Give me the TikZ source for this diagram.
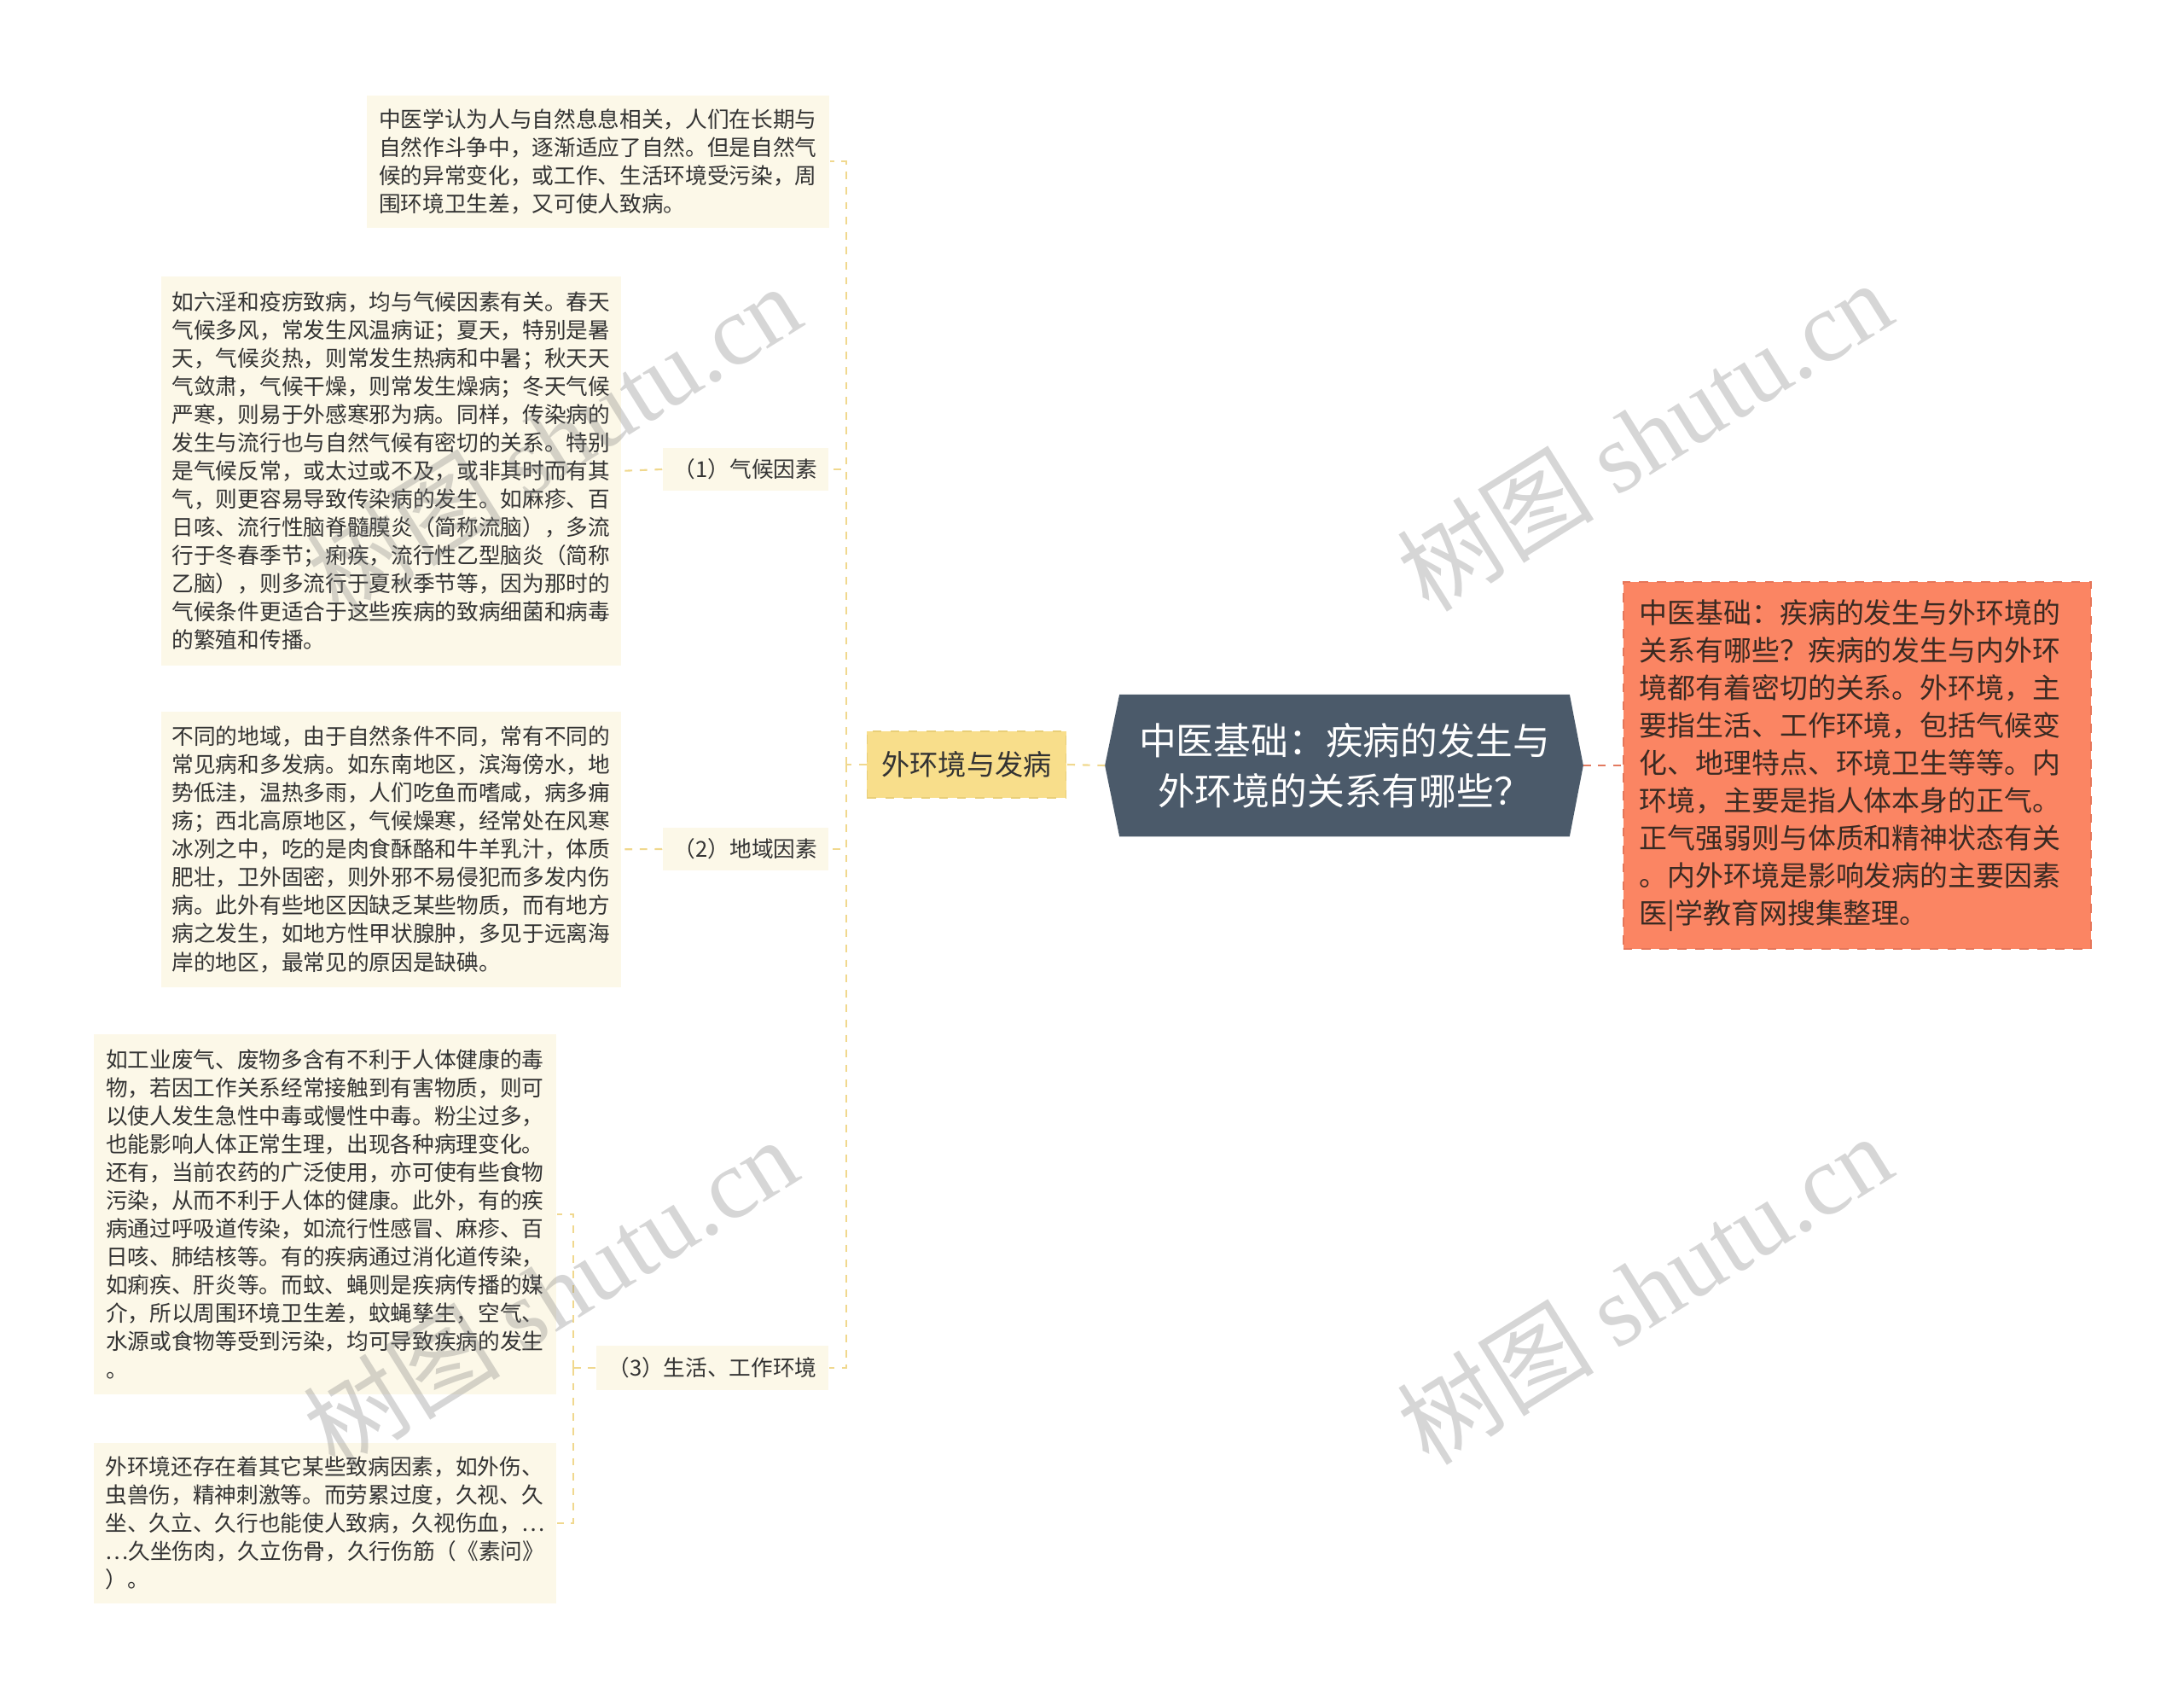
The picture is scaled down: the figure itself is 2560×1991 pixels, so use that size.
\documentclass[tikz,border=0pt]{standalone}
\usepackage{fontspec}
\setmainfont{Noto Sans CJK SC}
\newfontfamily\markfont{Liberation Serif}
\usetikzlibrary{calc,backgrounds}

\definecolor{notefill}{HTML}{FCF8E8}
\definecolor{notetext}{HTML}{333333}
\definecolor{topicfill}{HTML}{F8DE8B}
\definecolor{topicline}{HTML}{E9CF78}
\definecolor{rootfill}{HTML}{4B5A6A}
\definecolor{sidefill}{HTML}{FB8563}
\definecolor{sideline}{HTML}{E5765A}
\definecolor{sidetext}{HTML}{3A2A22}
\definecolor{linkyellow}{HTML}{F0D88E}
\definecolor{linkred}{HTML}{E27A60}

\newcommand\notefont{\fontsize{7.3pt}{9.4pt}\selectfont}

\begin{document}
\begin{tikzpicture}[x=0.01cm,y=-0.01cm,
    notebox/.style={fill=notefill,text=notetext,align=left,anchor=north west,inner sep=0pt,font=\notefont},
    tagbox/.style={fill=notefill,text=notetext,inner sep=0pt,font=\notefont},
    topicbox/.style={fill=topicfill,draw=topicline,dashed,inner sep=0pt,text=notetext,font=\fontsize{9.45pt}{12pt}\selectfont},
    rootbox/.style={inner sep=0pt,text=white,align=center,minimum width=5.26cm,minimum height=1.65cm,font=\fontsize{12.45pt}{16.7pt}\selectfont},
    sidebox/.style={fill=sidefill,draw=sideline,dashed,inner xsep=0.19cm,inner ysep=0pt,text width=5.1cm,align=left,text=sidetext,font=\fontsize{9.35pt}{12.5pt}\selectfont},
    link/.style={draw=linkyellow,line width=0.6pt,dash pattern=on 2.5pt off 2.5pt},
    watermark/.style={text=gray,opacity=0.32,rotate=32,font=\fontsize{33pt}{33pt}\selectfont}]

  \useasboundingbox (0,0) rectangle (2560,1991);

  %% Root and side note
  \node[rootbox] (root) at (1576,897) {中医基础：疾病的发生与\\外环境的关系有哪些？};
  \begin{scope}[on background layer]
    \fill[rootfill] (root.north west) -- (root.north east) -- ($(root.east)+(16,0)$)
      -- (root.south east) -- (root.south west) -- ($(root.west)+(-17,0)$) -- cycle;
  \end{scope}
  \coordinate (rootL) at ($(root.west)+(-17,0)$);
  \coordinate (rootR) at ($(root.east)+(16,0)$);

  \node[sidebox,minimum height=4.30cm] (side) at (2177,897) {%
    中医基础：疾病的发生与外环境的\\
    关系有哪些？疾病的发生与内外环\\
    境都有着密切的关系。外环境，主\\
    要指生活、工作环境，包括气候变\\
    化、地理特点、环境卫生等等。内\\
    环境，主要是指人体本身的正气。\\
    正气强弱则与体质和精神状态有关\\
    。内外环境是影响发病的主要因素\\
    医|学教育网搜集整理。};

  %% Main topic
  \node[topicbox,minimum width=2.33cm,minimum height=0.78cm] (topic) at (1133,896) {外环境与发病};

  %% Sub topics
  \node[tagbox,minimum width=1.94cm,minimum height=0.49cm] (climtag) at (874,550) {（1）气候因素};
  \node[tagbox,minimum width=1.94cm,minimum height=0.50cm] (regiontag) at (874,995) {（2）地域因素};
  \node[tagbox,minimum width=2.72cm,minimum height=0.52cm] (lifetag) at (835,1603) {（3）生活、工作环境};

  %% Notes
  \node[notebox,minimum width=5.42cm,minimum height=1.55cm] (intro) at (429,111) {%
    中医学认为人与自然息息相关，人们在长期与\\
    自然作斗争中，逐渐适应了自然。但是自然气\\
    候的异常变化，或工作、生活环境受污染，周\\
    围环境卫生差，又可使人致病。};
  \node[notebox,minimum width=5.39cm,minimum height=4.56cm] (climate) at (188,323) {%
    如六淫和疫疠致病，均与气候因素有关。春天\\
    气候多风，常发生风温病证；夏天，特别是暑\\
    天，气候炎热，则常发生热病和中暑；秋天天\\
    气敛肃，气候干燥，则常发生燥病；冬天气候\\
    严寒，则易于外感寒邪为病。同样，传染病的\\
    发生与流行也与自然气候有密切的关系。特别\\
    是气候反常，或太过或不及，或非其时而有其\\
    气，则更容易导致传染病的发生。如麻疹、百\\
    日咳、流行性脑脊髓膜炎（简称流脑），多流\\
    行于冬春季节；痢疾，流行性乙型脑炎（简称\\
    乙脑），则多流行于夏秋季节等，因为那时的\\
    气候条件更适合于这些疾病的致病细菌和病毒\\
    的繁殖和传播。};
  \node[notebox,minimum width=5.39cm,minimum height=3.23cm] (region) at (188,833) {%
    不同的地域，由于自然条件不同，常有不同的\\
    常见病和多发病。如东南地区，滨海傍水，地\\
    势低洼，温热多雨，人们吃鱼而嗜咸，病多痈\\
    疡；西北高原地区，气候燥寒，经常处在风寒\\
    冰冽之中，吃的是肉食酥酪和牛羊乳汁，体质\\
    肥壮，卫外固密，则外邪不易侵犯而多发内伤\\
    病。此外有些地区因缺乏某些物质，而有地方\\
    病之发生，如地方性甲状腺肿，多见于远离海\\
    岸的地区，最常见的原因是缺碘。};
  \node[notebox,minimum width=5.42cm,minimum height=4.22cm] (life) at (109,1211) {%
    如工业废气、废物多含有不利于人体健康的毒\\
    物，若因工作关系经常接触到有害物质，则可\\
    以使人发生急性中毒或慢性中毒。粉尘过多，\\
    也能影响人体正常生理，出现各种病理变化。\\
    还有，当前农药的广泛使用，亦可使有些食物\\
    污染，从而不利于人体的健康。此外，有的疾\\
    病通过呼吸道传染，如流行性感冒、麻疹、百\\
    日咳、肺结核等。有的疾病通过消化道传染，\\
    如痢疾、肝炎等。而蚊、蝇则是疾病传播的媒\\
    介，所以周围环境卫生差，蚊蝇孳生，空气、\\
    水源或食物等受到污染，均可导致疾病的发生\\
    。};
  \node[notebox,minimum width=5.42cm,minimum height=1.88cm] (other) at (109,1690) {%
    外环境还存在着其它某些致病因素，如外伤、\\
    虫兽伤，精神刺激等。而劳累过度，久视、久\\
    坐、久立、久行也能使人致病，久视伤血，…\\
    …久坐伤肉，久立伤骨，久行伤筋（《素问》\\
    ）。};

  %% Connectors
  \draw[link,draw=linkred] (rootR) -- (side.west);
  \draw[link] (rootL) -- (topic.east);
  \draw[link] (topic.west) -- ++(-24,0) coordinate (spine);
  \foreach \n in {intro,climtag,regiontag,lifetag}{
    \draw[link] (spine) |- (\n.east);
  }
  \draw[link] (climtag.west) -- (climate.east);
  \draw[link] (regiontag.west) -- (region.east);
  \draw[link] (lifetag.west) -- ++(-26,0) coordinate (lifespine);
  \foreach \n in {life,other}{
    \draw[link] (lifespine) |- (\n.east);
  }

  %% Watermarks
  \foreach \wx/\wy [count=\i] in {649/514,1927/510,645/1514,1927/1510}{
    \node[watermark] (wm\i) at (\wx,\wy) {树图 {\markfont shutu.cn}};
  }

\end{tikzpicture}
\end{document}
